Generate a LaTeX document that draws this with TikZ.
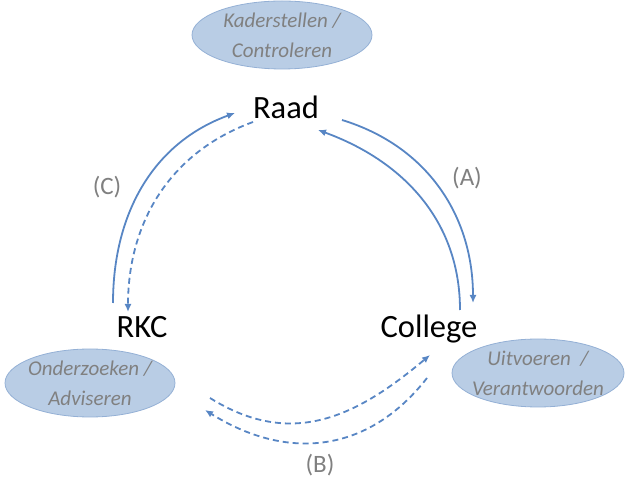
\documentclass[tikz,border=0pt]{standalone}
\usepackage{fontspec}
\setmainfont{Carlito}
\usetikzlibrary{shapes.geometric,arrows.meta}
\definecolor{arrowblue}{RGB}{88,134,196}
\definecolor{ellfill}{RGB}{185,205,229}
\definecolor{elldraw}{RGB}{148,176,213}
\definecolor{txtgray}{RGB}{128,128,128}
\begin{document}
\begin{tikzpicture}[x=1pt,y=1pt,
  role/.style={text=black,font=\fontsize{32.5}{34}\selectfont,inner sep=0pt},
  task/.style={ellipse,draw=elldraw,line width=0.8pt,fill=ellfill,inner sep=0pt},
  tasktext/.style={text=txtgray,font=\fontsize{21}{30}\selectfont\itshape,align=center,inner sep=0pt},
  lab/.style={text=txtgray,font=\fontsize{25}{27}\selectfont,inner sep=0pt},
  flow/.style={draw=arrowblue,line width=1.8pt,-{Latex[length=8pt,width=7pt]}},
  dflow/.style={flow,dash pattern=on 6pt off 4pt}]
\useasboundingbox (0,0) rectangle (626,479);
% ellipses
\node[task,minimum width=180pt,minimum height=68pt] (eK) at (282,444) {};
\node[tasktext] (tK) at (eK) {Kaderstellen /\\Controleren};
\node[task,minimum width=170pt,minimum height=68pt] (eO) at (90,96) {};
\node[tasktext] (tO) at (eO) {Onderzoeken /\\Adviseren};
\node[task,minimum width=172pt,minimum height=68pt] (eU) at (538,106) {};
\node[tasktext] (tU) at (eU) {Uitvoeren~~/\\Verantwoorden};
% actors
\node[role] (raad) at (286,372) {Raad};
\node[role] (rkc) at (142,152) {RKC};
\node[role] (college) at (429,150) {College};
% labels
\node[lab] (la) at (467,301) {(A)};
\node[lab] (lc) at (107,292) {(C)};
\node[lab] (lb) at (320,14) {(B)};
% arc end points
\coordinate (a1s) at (342,359);
\coordinate (a1e) at (473,176);
\coordinate (a2s) at (460,169);
\coordinate (a2e) at (318,349);
\coordinate (c1s) at (113,176);
\coordinate (c1e) at (235,366);
\coordinate (c2s) at (253,357);
\coordinate (c2e) at (128,167);
\coordinate (b1s) at (210,81);
\coordinate (b1e) at (430,124);
\coordinate (b2s) at (427,101);
\coordinate (b2e) at (205,69);
% (A)
\draw[flow] (a1s) to[out=-17,in=90] (a1e);
\draw[flow] (a2s) to[out=90,in=-20] (a2e);
% (C)
\draw[flow] (c1s) to[out=90,in=-160] (c1e);
\draw[dflow] (c2s) to[out=200,in=90] (c2e);
% (B)
\draw[dflow] (b1s) to[out=-32,in=-140,looseness=1.1] (b1e);
\draw[dflow] (b2s) to[out=232,in=-32,looseness=1.1] (b2e);
\end{tikzpicture}
\end{document}
